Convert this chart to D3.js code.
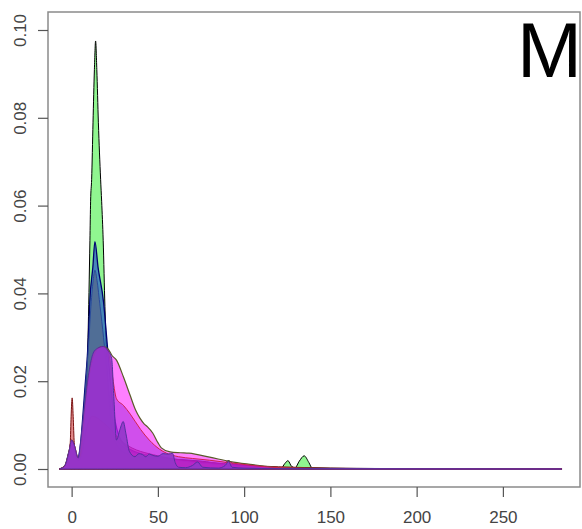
<!DOCTYPE html>
<html>
<head>
<meta charset="utf-8">
<script src="https://cdn.jsdelivr.net/npm/d3@7"></script>
<style>
  html, body { margin: 0; padding: 0; background: #fff; }
  svg { display: block; }
</style>
</head>
<body>
<script>
// ---- Data ----
const panelTitle = "M";
const xTicks = [0, 50, 100, 150, 200, 250];
const yTicks = [0.00, 0.02, 0.04, 0.06, 0.08, 0.10];

const greenSeries = [[-7,0],[-4,0.0005],[-1.5,0.003],[0,0.005],[1.5,0.004],[3.5,0.002],[5.5,0.003],[7,0.007],[8.3,0.016],[9.5,0.03],[10.6,0.052],[11,0.061],[11.6,0.066],[12.4,0.079],[13.2,0.091],[13.9,0.0975],[14.6,0.091],[15.5,0.079],[16.8,0.066],[17.4,0.061],[18.3,0.052],[19.3,0.037],[20.5,0.024],[22,0.014],[24,0.008],[27,0.005],[32,0.0035],[40,0.0028],[50,0.0025],[60,0.0022],[75,0.0018],[88,0.0012],[91,0.0019],[94,0.0011],[105,0.0007],[118,0.0003],[121.5,0.0002],[123.5,0.0012],[125.4,0.0019],[127.5,0.0006],[129.5,0.0003],[132,0.0018],[134.8,0.003],[137.5,0.0015],[139.5,0.0002],[150,0.0001],[200,0.00005],[284,0]];

const blueSeries = [[-7,0],[-4,0.0006],[-1.5,0.004],[0,0.006],[1.5,0.0045],[3.5,0.0025],[5,0.005],[6.5,0.012],[8,0.02],[9,0.025],[9.7,0.03],[10.5,0.038],[12.3,0.046],[13.5,0.0518],[15.3,0.046],[18.5,0.038],[20.3,0.03],[22,0.022],[24,0.014],[27,0.008],[32,0.005],[40,0.0035],[55,0.0025],[75,0.0015],[95,0.0008],[120,0.0003],[150,0.0001],[284,0]];

const steelSeries = [[-7,0],[-4,0.0005],[-1.5,0.0035],[0,0.0055],[1.5,0.004],[3.5,0.0022],[5,0.0045],[6.8,0.012],[8.5,0.021],[9.8,0.028],[11,0.036],[12.5,0.043],[13.5,0.0453],[14.7,0.043],[16.5,0.037],[18.5,0.03],[20.5,0.022],[23,0.013],[26,0.007],[32,0.0045],[45,0.003],[60,0.002],[80,0.0012],[100,0.0006],[130,0.0002],[284,0]];

const redSeries = [[-7,0],[-4,0.0008],[-2,0.0025],[-0.8,0.006],[-0.3,0.012],[0.3,0.0162],[0.9,0.012],[1.5,0.006],[2.5,0.003],[4,0.002],[6,0.0035],[8,0.008],[12,0.012],[20,0.01],[30,0.006],[50,0.003],[80,0.0015],[120,0.0005],[180,0.0001],[284,0]];

const magentaSeries = [[-7,0],[-4,0.0007],[-1.5,0.004],[0,0.0066],[1.5,0.0055],[3.8,0.0025],[5,0.003],[6.5,0.008],[8,0.015],[10,0.021],[13,0.026],[15.5,0.0275],[18,0.0279],[21,0.0274],[23.5,0.0258],[26,0.0248],[30,0.021],[33.8,0.0169],[37,0.0135],[39.6,0.0116],[42,0.0103],[44,0.0096],[47,0.0082],[50,0.006],[52,0.0048],[57,0.0039],[63,0.0037],[68,0.0036],[80,0.0027],[92,0.0017],[105,0.001],[115,0.0005],[130,0.0002],[160,0.0001],[284,0]];

const violetSeries = [[-7,0],[-4,0.0007],[-1.5,0.004],[0,0.0066],[1.5,0.0055],[3.8,0.0025],[5,0.003],[6.5,0.008],[8,0.015],[10,0.021],[13,0.026],[15.5,0.0275],[18,0.0279],[21,0.027],[23.5,0.0215],[26,0.016],[30,0.0145],[34,0.0125],[40,0.009],[45,0.0066],[51,0.0045],[55,0.0036],[62,0.0028],[70,0.0024],[80,0.002],[92,0.0014],[105,0.0008],[120,0.0003],[150,0.0001],[284,0]];

const purpleSeries = [[-7,0],[-4,0.0007],[-1.5,0.004],[0,0.0066],[1.5,0.0055],[3.8,0.0025],[4.8,0.005],[6,0.009],[7.7,0.015],[10,0.022],[12.5,0.0264],[15,0.0275],[18.3,0.0279],[21,0.027],[23.2,0.0252],[24.5,0.016],[26,0.0066],[28,0.009],[29.9,0.0108],[31.5,0.008],[33.5,0.004],[36.7,0.0028],[39,0.0035],[41,0.0033],[43,0.0028],[45,0.0034],[47,0.0031],[50,0.0029],[53,0.0035],[56,0.0034],[58.5,0.0036],[60,0.0015],[62,0.0004],[66,0.0003],[70,0.0008],[73,0.0016],[76,0.0004],[85,0.0002],[89,0.0008],[91,0.0017],[93,0.0004],[100,0.0002],[120,0.0001],[284,0]];

// ---- Drawing ----
const W = 582, H = 529;
const mLeft = 48, mRight = 580, mTop = 12, mBottom = 487;

const svg = d3.select("body").append("svg").attr("width", W).attr("height", H);
svg.append("rect").attr("width", W).attr("height", H).attr("fill", "#fff");

const x = d3.scaleLinear().domain([-13.7, 294.7]).range([mLeft, mRight]);
const y = d3.scaleLinear().domain([-0.0041, 0.1041]).range([mBottom, mTop]);

const area = d3.area()
  .x(d => x(d[0]))
  .y0(y(0))
  .y1(d => y(d[1]))
  .curve(d3.curveMonotoneX);

const layers = [
  { data: greenSeries,   fill: "rgba(20,235,20,0.47)",  stroke: "#000000", sw: 1 },
  { data: blueSeries,    fill: "rgba(40,90,200,0.7)",   stroke: "#000070", sw: 1.3 },
  { data: steelSeries,   fill: "rgba(90,80,110,0.45)",  stroke: "#2a4a9a", sw: 1 },
  { data: redSeries,     fill: "rgba(200,40,40,0.55)",  stroke: "#7a1010", sw: 1 },
  { data: magentaSeries, fill: "rgba(255,0,255,0.5)",   stroke: "#5a5a2a", sw: 1.2 },
  { data: violetSeries,  fill: "rgba(170,40,220,0.55)", stroke: "#d02050", sw: 1 },
  { data: purpleSeries,  fill: "rgba(145,55,200,0.88)", stroke: "#5530a0", sw: 1 }
];

const plot = svg.append("g");
layers.forEach(l => {
  plot.append("path")
    .datum(l.data)
    .attr("d", area)
    .attr("fill", l.fill)
    .attr("stroke", l.stroke)
    .attr("stroke-width", l.sw)
    .attr("stroke-linejoin", "round");
});

// Box
svg.append("rect")
  .attr("x", mLeft).attr("y", mTop)
  .attr("width", mRight - mLeft).attr("height", mBottom - mTop)
  .attr("fill", "none").attr("stroke", "#8a8a8a").attr("stroke-width", 1.5);

const font = "'Liberation Sans', Arial, Helvetica, sans-serif";

// Y axis
const gy = svg.append("g").attr("transform", `translate(${mLeft},0)`)
  .call(d3.axisLeft(y).tickValues(yTicks).tickFormat(d3.format(".2f")).tickSize(10).tickSizeOuter(0));
gy.select(".domain").remove();
gy.selectAll(".tick line").attr("stroke", "#555").attr("stroke-width", 1.2);
gy.selectAll(".tick text")
  .attr("transform", "rotate(-90)")
  .attr("x", 0).attr("y", -22).attr("dy", 0)
  .attr("text-anchor", "middle")
  .attr("fill", "#444")
  .style("font-family", font).style("font-size", "17px");

// X axis
const gx = svg.append("g").attr("transform", `translate(0,${mBottom})`)
  .call(d3.axisBottom(x).tickValues(xTicks).tickFormat(d3.format("d")).tickSize(10).tickSizeOuter(0));
gx.select(".domain").remove();
gx.selectAll(".tick line").attr("stroke", "#555").attr("stroke-width", 1.2);
gx.selectAll(".tick text")
  .attr("y", 36).attr("dy", 0)
  .attr("fill", "#444")
  .style("font-family", font).style("font-size", "17px");

// Panel letter
svg.append("text")
  .attr("x", 582).attr("y", 77)
  .attr("text-anchor", "end")
  .attr("fill", "#000")
  .style("font-family", font).style("font-size", "78px")
  .text(panelTitle);
</script>
</body>
</html>
